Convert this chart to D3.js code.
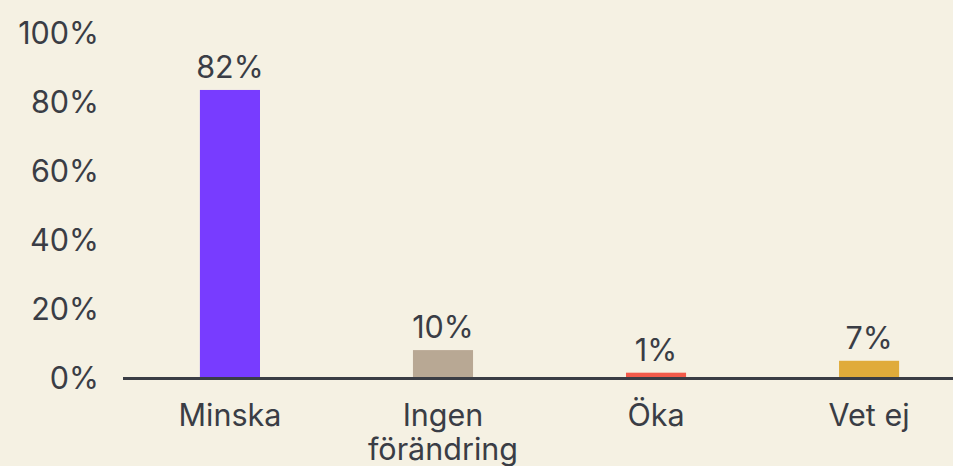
<!DOCTYPE html>
<html>
<head>
<meta charset="utf-8">
<script src="https://cdn.jsdelivr.net/npm/d3@7"></script>
<style>
  html, body { margin: 0; padding: 0; background: #f5f1e3; }
  svg { display: block; }
</style>
</head>
<body>
<div id="chart"></div>
<script>
// data
const categories = ["Minska", "Ingen förändring", "Öka", "Vet ej"];
const shares = [83.2, 7.8, 1.25, 4.7];          // bar heights (percent)
const shareLabels = ["82%", "10%", "1%", "7%"];  // printed labels
const colors = ["#783cff", "#b8a894", "#f25a4a", "#e0ab3a"];
const yTicks = [0, 20, 40, 60, 80, 100];

const width = 953;
const height = 466;
const font = "Inter, 'Noto Sans', sans-serif";
const ink = "#3a3d45";
const fontSize = "30.5px";

const svg = d3.select("#chart")
  .append("svg")
  .attr("width", width)
  .attr("height", height)
  .style("background", "#f5f1e3")
  .style("font-family", font);

const x = d3.scaleBand()
  .domain(categories)
  .range([123, 953])
  .paddingInner(0.718)
  .paddingOuter(0.307)
  .align(0.588);

const y = d3.scaleLinear()
  .domain([0, 100])
  .range([377, 32]);

// y tick labels
svg.append("g")
  .selectAll("text")
  .data(yTicks)
  .join("text")
  .attr("x", 99)
  .attr("y", d => y(d) + 1.5)
  .attr("dy", "0.36em")
  .attr("text-anchor", "end")
  .attr("fill", ink)
  .style("font-size", fontSize)
  .text(d => d + "%");

// bars
svg.append("g")
  .selectAll("rect")
  .data(categories)
  .join("rect")
  .attr("x", d => x(d))
  .attr("y", (d, i) => y(shares[i]))
  .attr("width", x.bandwidth())
  .attr("height", (d, i) => y(0) - y(shares[i]))
  .attr("fill", (d, i) => colors[i]);

// value labels
svg.append("g")
  .selectAll("text")
  .data(categories)
  .join("text")
  .attr("x", d => x(d) + x.bandwidth() / 2)
  .attr("y", (d, i) => y(shares[i]) - 12)
  .attr("text-anchor", "middle")
  .attr("fill", ink)
  .style("font-size", fontSize)
  .text((d, i) => shareLabels[i]);

// baseline
svg.append("line")
  .attr("x1", 123)
  .attr("x2", width)
  .attr("y1", y(0) + 1.5)
  .attr("y2", y(0) + 1.5)
  .attr("stroke", ink)
  .attr("stroke-width", 3);

// category labels, wrapped on space for the long one
svg.append("g")
  .selectAll("text")
  .data(categories)
  .join("text")
  .attr("text-anchor", "middle")
  .attr("fill", ink)
  .style("font-size", fontSize)
  .each(function (d) {
    const words = d.length > 10 ? d.split(" ") : [d];
    const cx = x(d) + x.bandwidth() / 2;
    words.forEach((w, k) => {
      d3.select(this).append("tspan")
        .attr("x", cx)
        .attr("y", 426 + k * 34)
        .text(w);
    });
  });
</script>
</body>
</html>
